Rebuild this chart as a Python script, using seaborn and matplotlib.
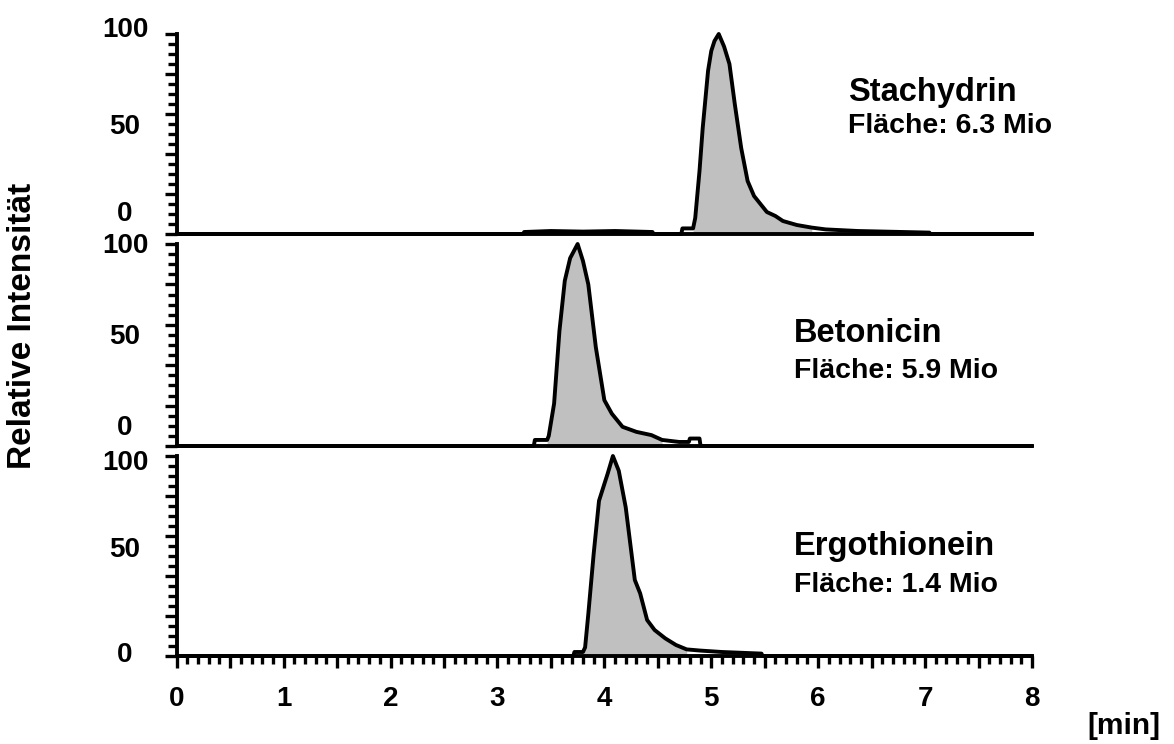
import numpy as np
import pandas as pd
import matplotlib
matplotlib.use("Agg")
import matplotlib.pyplot as plt
import matplotlib.transforms as mtransforms
from matplotlib.ticker import MultipleLocator, FuncFormatter
import seaborn as sns

# ---------------- data ----------------
compounds = ["Stachydrin", "Betonicin", "Ergothionein"]
areas = ["Fläche: 6.3 Mio", "Fläche: 5.9 Mio", "Fläche: 1.4 Mio"]

stachydrin_t = [0.0, 3.24, 3.25, 3.5, 3.8, 4.1, 4.45, 4.46, 4.72, 4.73, 4.83, 4.85, 4.89,
                4.92, 4.97, 5.00, 5.03, 5.07, 5.12, 5.17, 5.22, 5.28, 5.34, 5.40, 5.46,
                5.52, 5.60, 5.67, 5.80, 5.94, 6.07, 6.37, 7.04, 7.05, 8.0]
stachydrin_v = [0.0, 0.0, 1.0, 1.5, 1.2, 1.5, 1.0, 0.0, 0.0, 2.8, 2.8, 8.0, 31.5,
                53.0, 81.6, 91.5, 96.5, 100.0, 93.7, 85.0, 65.0, 43.0, 26.5, 19.0, 15.0,
                11.0, 9.0, 6.5, 4.5, 3.2, 2.3, 1.5, 0.7, 0.0, 0.0]

betonicin_t = [0.0, 3.34, 3.35, 3.465, 3.48, 3.53, 3.58, 3.63, 3.68, 3.75, 3.80, 3.85,
               3.92, 4.00, 4.07, 4.17, 4.30, 4.44, 4.54, 4.70, 4.79, 4.80, 4.89, 4.90, 8.0]
betonicin_v = [0.0, 0.0, 3.0, 3.0, 5.0, 21.0, 57.0, 81.8, 93.0, 100.0, 91.6, 80.0,
               49.0, 22.7, 16.0, 9.5, 7.0, 5.4, 3.0, 2.0, 2.0, 3.7, 3.7, 0.0, 0.0]

ergothionein_t = [0.0, 3.71, 3.72, 3.80, 3.82, 3.85, 3.90, 3.95, 4.00, 4.03, 4.08, 4.135,
                  4.20, 4.285, 4.335, 4.40, 4.47, 4.57, 4.67, 4.77, 4.90, 5.10, 5.47, 5.48, 8.0]
ergothionein_v = [0.0, 0.0, 2.0, 2.0, 4.3, 21.0, 51.0, 77.6, 86.0, 91.0, 100.0, 92.6,
                  74.3, 38.0, 31.3, 18.0, 13.0, 8.8, 5.5, 3.3, 2.7, 2.0, 1.2, 0.0, 0.0]

peak_windows = [(4.83, 5.95), (3.465, 4.55), (3.80, 4.77)]

ytick_vals = [0, 50, 100]
ytick_labels = ["0", "50", "100"]
xtick_labels = ["0", "1", "2", "3", "4", "5", "6", "7", "8"]

traces = [(stachydrin_t, stachydrin_v), (betonicin_t, betonicin_v),
          (ergothionein_t, ergothionein_v)]

# ---------------- style ----------------
sns.set_theme(style="ticks")
plt.rcParams["font.family"] = ["Liberation Sans", "DejaVu Sans"]
plt.rcParams["font.weight"] = "bold"
for k in ["text.color", "axes.labelcolor", "xtick.color", "ytick.color",
          "xtick.labelcolor", "ytick.labelcolor"]:
    plt.rcParams[k] = "black"

W, H = 1174, 744
fig = plt.figure(figsize=(W / 100, H / 100), dpi=100)

x_left, x_right = 176.7, 1032.0
panels_px = [(34, 234), (244, 446), (456, 656)]  # (y of 100, y of 0) in px
# per-label vertical offsets in px (positive = upward), as placed in the reference
label_offsets = [[20, 7, 4], [18, 8, -2], [1, 6, -7]]
text_pos = [((848, 100.7), (848, 132.7)),
            ((794, 342), (794, 378)),
            ((794, 555), (794, 592))]

lw_line = 2.8
fill_col = "#c0c0c0"

for i, ((t, v), (ytop, ybot)) in enumerate(zip(traces, panels_px)):
    ax = fig.add_axes([x_left / W, 1 - ybot / H, (x_right - x_left) / W, (ybot - ytop) / H])
    df = pd.DataFrame({"t": t, "v": v})
    t_arr = np.array(t)
    v_arr = np.array(v)
    lo, hi = peak_windows[i]
    mask = (t_arr >= lo) & (t_arr <= hi)
    ax.fill_between(t_arr, 0, v_arr, where=mask, color=fill_col, linewidth=0, zorder=1)
    sns.lineplot(data=df, x="t", y="v", ax=ax, color="black", linewidth=lw_line,
                 estimator=None, sort=False, legend=False, zorder=3)
    for line in ax.lines:
        line.set_clip_on(False)
        line.set_solid_joinstyle("round")

    ax.set_xlim(0, 8)
    ax.set_ylim(0, 100)
    ax.set_xlabel("")
    ax.set_ylabel("")
    sns.despine(ax=ax)
    for s in ["left", "bottom"]:
        ax.spines[s].set_linewidth(2.8)
        ax.spines[s].set_color("black")
        ax.spines[s].set_zorder(4)

    ax.yaxis.set_major_locator(MultipleLocator(20))
    ax.yaxis.set_minor_locator(MultipleLocator(5))
    ax.tick_params(axis="y", which="major", direction="out", length=9.0, width=2.4,
                   color="black", labelleft=False)
    ax.tick_params(axis="y", which="minor", direction="out", length=6.5, width=2.4,
                   color="black")

    # y labels (placed as in the reference, not exactly on the tick values)
    trans = mtransforms.blended_transform_factory(ax.transAxes, ax.transData)
    for val, lab, off in zip(ytick_vals, ytick_labels, label_offsets[i]):
        tr = trans + mtransforms.ScaledTranslation(0, off / 100, fig.dpi_scale_trans)
        ax.text((125 - x_left) / (x_right - x_left), val, lab, transform=tr,
                ha="center", va="center", fontsize=20, fontweight="bold",
                color="black")

    if i < 2:
        ax.tick_params(axis="x", which="both", bottom=False, labelbottom=False)
    else:
        ax.xaxis.set_major_locator(MultipleLocator(0.5))
        ax.xaxis.set_minor_locator(MultipleLocator(0.1))
        ax.xaxis.set_major_formatter(FuncFormatter(
            lambda x, pos: xtick_labels[int(round(x))] if abs(x - round(x)) < 1e-6 else ""))
        ax.tick_params(axis="x", which="major", direction="out", length=8.6, width=2.4,
                       color="black", pad=13, labelsize=20, labelcolor="black")
        ax.tick_params(axis="x", which="minor", direction="out", length=5.8, width=2.4,
                       color="black")
        for lab in ax.get_xticklabels():
            lab.set_fontweight("bold")

    (tx, ty), (fx, fy) = text_pos[i]
    fig.text(tx / W, 1 - ty / H, compounds[i], ha="left", va="baseline",
             fontsize=23.5, fontweight="bold", color="black")
    fig.text(fx / W, 1 - fy / H, areas[i], ha="left", va="baseline",
             fontsize=20.5, fontweight="bold", color="black")

fig.text(23 / W, 1 - 326 / H, "Relative Intensität", rotation=90, ha="center",
         va="center", fontsize=24, fontweight="bold", color="black")
fig.text(1124 / W, 1 - 726 / H, "[min]", ha="center", va="center",
         fontsize=21.5, fontweight="bold", color="black")

fig.savefig("out.png", dpi=100, facecolor="white")
